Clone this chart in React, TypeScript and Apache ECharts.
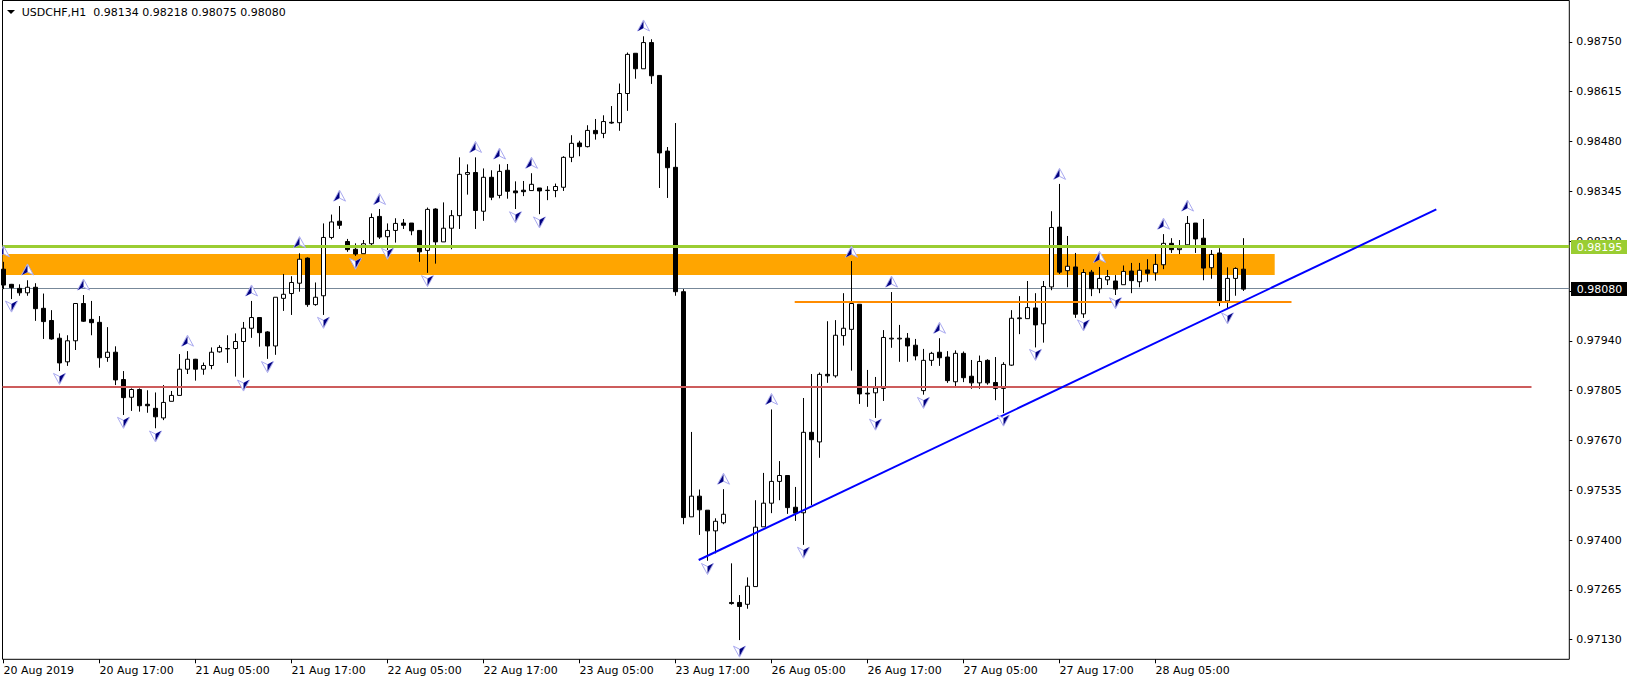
import React, { useEffect, useRef } from "react";
import * as echarts from "echarts";

const titleText = "USDCHF,H1  0.98134 0.98218 0.98075 0.98080";
const timeLabels = ["20 Aug 2019", "20 Aug 17:00", "21 Aug 05:00", "21 Aug 17:00", "22 Aug 05:00", "22 Aug 17:00", "23 Aug 05:00", "23 Aug 17:00", "26 Aug 05:00", "26 Aug 17:00", "27 Aug 05:00", "27 Aug 17:00", "28 Aug 05:00"];
const timeLabelBars = [0, 12, 24, 36, 48, 60, 72, 84, 96, 108, 120, 132, 144];
const priceTicks = [0.9875, 0.98615, 0.9848, 0.98345, 0.9821, 0.98075, 0.9794, 0.97805, 0.9767, 0.97535, 0.974, 0.97265, 0.9713];

// prices in 1e-5 units
const opens = [98134,98093,98082,98070,98085,98028,97995,97947,97883,97940,
98041,97998,97990,97895,97909,97835,97787,97808,97768,97757,
97731,97776,97792,97863,97890,97863,97873,97910,97918,97919,
97938,97974,98003,97964,97926,98055,98068,98096,98164,98038,
98062,98220,98264,98209,98188,98176,98203,98277,98222,98239,
98259,98259,98239,98185,98297,98208,98245,98279,98391,98396,
98291,98383,98334,98402,98346,98348,98347,98354,98347,98347,
98356,98437,98476,98466,98510,98502,98532,98531,98610,98719,
98677,98748,98659,98454,98410,98073,97463,97519,97481,97425,
97447,97231,97231,97226,97274,97436,97500,97559,97575,97489,
97474,97692,97666,97849,97845,97954,97971,98039,97798,97799,
97811,97945,97945,97947,97928,97805,97887,97909,97896,97829,
97906,97844,97826,97887,97827,97811,97874,98000,98000,98029,
97986,98086,98248,98130,98140,98013,98126,98081,98105,98102,
98092,98129,98100,98132,98124,98146,98204,98187,98200,98259,
98218,98138,98178,98048,98109,98134];
const closes = [98091,98084,98070,98085,98027,97992,97945,97880,97940,98041,
97993,97989,97894,97909,97834,97786,97808,97764,97764,97734,
97773,97792,97863,97890,97863,97873,97909,97922,97919,97938,
97974,98003,97962,97926,98058,98066,98098,98161,98038,98058,
98220,98262,98253,98187,98175,98203,98274,98221,98239,98258,
98253,98238,98181,98296,98208,98245,98279,98391,98396,98293,
98383,98329,98399,98345,98341,98344,98364,98346,98348,98358,
98437,98475,98466,98510,98501,98534,98530,98610,98716,98677,
98748,98658,98449,98409,98073,97461,97519,97482,97425,97451,
97470,97228,97220,97275,97435,97500,97559,97575,97488,97473,
97692,97672,97849,97845,97955,97974,98041,97796,97796,97812,
97949,97947,97947,97926,97899,97887,97906,97894,97832,97906,
97840,97826,97884,97826,97811,97876,98001,98002,98030,97983,
98087,98247,98126,98142,98012,98125,98081,98109,98114,98080,
98128,98103,98131,98123,98147,98204,98187,98191,98258,98216,
98137,98174,98048,98109,98136,98080];
const highs = [98154,98094,98093,98104,98096,98068,98023,97960,97955,98041,
98064,98048,98007,97977,97925,97858,97811,97811,97806,97800,
97820,97804,97904,97912,97891,97881,97922,97928,97955,97960,
97991,98048,98003,97966,98058,98121,98115,98177,98166,98098,
98258,98282,98305,98216,98204,98213,98285,98297,98258,98272,
98270,98259,98239,98301,98299,98315,98294,98437,98418,98437,
98407,98402,98418,98419,98372,98373,98394,98354,98359,98366,
98440,98497,98482,98524,98541,98551,98576,98637,98721,98719,
98765,98757,98659,98465,98530,98080,97693,97537,97481,97459,
97538,97337,97251,97299,97508,97582,97754,97614,97575,97544,
97785,97850,97854,97993,97996,98069,98156,98039,97861,97842,
97969,98072,97983,97961,97945,97918,97910,97947,97912,97914,
97911,97888,97900,97890,97896,97882,98023,98061,98102,98069,
98102,98291,98365,98224,98178,98134,98132,98140,98132,98118,
98144,98151,98151,98161,98175,98229,98218,98213,98278,98259,
98270,98186,98191,98139,98139,98218];
const lows = [98080,98053,98062,98062,97994,97945,97943,97858,97872,97915,
97991,97955,97867,97883,97820,97739,97750,97748,97745,97703,
97725,97776,97792,97850,97832,97848,97863,97908,97880,97843,
97840,97948,97924,97891,97902,98021,98010,98073,98032,98035,
98010,98215,98243,98181,98170,98176,98199,98216,98186,98206,
98243,98226,98154,98124,98149,98208,98188,98243,98336,98243,
98265,98321,98326,98325,98297,98332,98347,98283,98321,98329,
98346,98424,98440,98464,98485,98489,98528,98509,98563,98650,
98677,98636,98354,98327,98062,97443,97463,97414,97344,97364,
97443,97225,97129,97214,97274,97436,97473,97508,97471,97452,
97387,97495,97623,97826,97840,97927,97859,97769,97761,97731,
97777,97921,97883,97883,97887,97794,97872,97872,97826,97817,
97828,97810,97810,97821,97779,97744,97872,97958,98000,97922,
97935,98077,98121,98085,98002,98002,98061,98069,98091,98064,
98092,98069,98085,98100,98103,98134,98178,98175,98199,98178,
98104,98108,98034,98028,98062,98075];

const fractalUpBars = [0,3,10,23,31,37,42,47,59,62,66,80,90,96,106,111,117,132,137,145,148];
const fractalUpPrices = [98181,98132,98091,97939,98075,98206,98332,98323,98464,98446,98421,98793,97565,97781,98180,98099,97974,98391,98166,98256,98305];
const fractalDownBars = [1,7,15,19,30,33,40,44,48,53,64,67,88,92,100,109,115,125,129,135,139,153];
const fractalDownPrices = [98034,97838,97719,97682,97820,97870,97990,98150,98177,98103,98276,98262,97323,97099,97367,97714,97773,97725,97903,97983,98043,98002];

const resistanceLevel = 0.98195;
const bidLevel = 0.9808;
const supportLevel = 0.97813;
const neckLevel = 0.98043;
const neckBars = [98.9, 161];
const supportBars = [-0.125, 191];
const zoneBars = [-0.125, 158.9];
const zonePrices = [0.98175, 0.98118];
const trendBars = [86.9, 179.1];
const trendPrices = [0.97346, 0.98296];

const FONT = "'DejaVu Sans', sans-serif";
const AXIS_MIN_BAR = -0.125;
const AXIS_MAX_BAR = 195.725;
const AXIS_MIN_PRICE = 0.97077;
const AXIS_MAX_PRICE = 0.98862;

const pts = (v: number) => v / 100000;

function arrow(api: any, up: boolean) {
  const [x, y] = api.coord([api.value(0), api.value(1)]);
  const s = up ? 1 : -1;
  const p = (dx: number, dy: number) => [x + dx * s, y + dy * s];
  return {
    type: "group",
    children: [
      {
        type: "polygon",
        shape: { points: [p(0, -6), p(6, 5), p(0, 2), p(-6, 5)] },
        style: { fill: "#ffffff", stroke: "#a9a9f0", lineWidth: 1 },
      },
      {
        type: "polygon",
        shape: { points: [p(0, -5), p(-5.5, 5), p(0, 2)] },
        style: { fill: "#000080", stroke: "none" },
      },
    ],
  };
}

// Horizontal levels drawn pixel-crisp, as the terminal does.
function hLine(name: string, bars: number[], level: number, color: string, width: number, z: number) {
  return {
    name,
    type: "custom",
    z,
    silent: true,
    clip: true,
    data: [[bars[0], level, bars[1]]],
    encode: { x: [0, 2], y: 1 },
    renderItem: (_: any, api: any) => {
      const a = api.coord([api.value(0), api.value(1)]);
      const b = api.coord([api.value(2), api.value(1)]);
      return {
        type: "rect",
        shape: { x: a[0], y: Math.floor(a[1] - width / 2), width: b[0] - a[0], height: width },
        style: { fill: color },
      };
    },
  };
}

export default function App() {
  const ref = useRef<HTMLDivElement>(null);
  useEffect(() => {
    document.body.style.margin = "0";
    document.body.style.background = "#ffffff";
    const chart = echarts.init(ref.current!, null, { renderer: "svg" });
    const candleData = opens.map((o, i) => [i, pts(o), pts(closes[i]), pts(lows[i]), pts(highs[i])]);
    chart.setOption({
      animation: false,
      backgroundColor: "#ffffff",
      grid: {
        left: 2.5,
        top: 0.5,
        width: 1566.8,
        height: 658.8,
        show: true,
        borderColor: "#000000",
        borderWidth: 1,
        backgroundColor: "#ffffff",
      },
      xAxis: {
        type: "value",
        min: AXIS_MIN_BAR,
        max: AXIS_MAX_BAR,
        splitLine: { show: false },
        axisLine: { show: false, onZero: false },
        axisTick: { show: true, length: 4, customValues: timeLabelBars, lineStyle: { color: "#000000" } },
        axisLabel: {
          customValues: timeLabelBars,
          align: "left",
          margin: 6,
          color: "#000000",
          fontFamily: FONT,
          fontSize: 11,
          hideOverlap: false,
          formatter: (v: number) => timeLabels[timeLabelBars.indexOf(v)] ?? "",
        },
      },
      yAxis: {
        type: "value",
        position: "right",
        min: AXIS_MIN_PRICE,
        max: AXIS_MAX_PRICE,
        splitLine: { show: false },
        axisLine: { show: false, onZero: false },
        axisTick: { show: true, length: 3, customValues: priceTicks, lineStyle: { color: "#000000" } },
        axisLabel: {
          customValues: priceTicks,
          margin: 7,
          align: "left",
          color: "#000000",
          fontFamily: FONT,
          fontSize: 11,
          formatter: (v: number) => v.toFixed(5),
        },
      },
      series: [
        {
          name: "zone",
          type: "custom",
          z: 1,
          silent: true,
          clip: true,
          data: [[zoneBars[0], zonePrices[0], zoneBars[1], zonePrices[1]]],
          encode: { x: [0, 2], y: [1, 3] },
          renderItem: (_: any, api: any) => {
            const a = api.coord([api.value(0), api.value(1)]);
            const b = api.coord([api.value(2), api.value(3)]);
            return {
              type: "rect",
              shape: { x: a[0], y: a[1], width: b[0] - a[0], height: b[1] - a[1] },
              style: { fill: "#ffa500" },
            };
          },
        },
        hLine("bid", [AXIS_MIN_BAR, AXIS_MAX_BAR], bidLevel, "#778899", 1, 2),
        {
          name: "USDCHF,H1",
          type: "candlestick",
          z: 3,
          silent: true,
          barWidth: 4,
          data: candleData,
          itemStyle: {
            color: "#ffffff",
            color0: "#000000",
            borderColor: "#000000",
            borderColor0: "#000000",
            borderWidth: 1,
          },
        },
        hLine("resistance", [AXIS_MIN_BAR, AXIS_MAX_BAR], resistanceLevel, "#9acd32", 3, 4),
        hLine("support", supportBars, supportLevel, "#cd5c5c", 2, 4),
        hLine("neck", neckBars, neckLevel, "#ff8c00", 2, 4),
        {
          name: "trend",
          type: "line",
          z: 4,
          silent: true,
          symbol: "none",
          data: [[trendBars[0], trendPrices[0]], [trendBars[1], trendPrices[1]]],
          lineStyle: { color: "#0000ff", width: 2 },
        },
        {
          name: "fractalUp",
          type: "custom",
          z: 5,
          silent: true,
          clip: true,
          data: fractalUpBars.map((b, i) => [b, pts(fractalUpPrices[i])]),
          renderItem: (_: any, api: any) => arrow(api, true),
        },
        {
          name: "fractalDown",
          type: "custom",
          z: 5,
          silent: true,
          clip: true,
          data: fractalDownBars.map((b, i) => [b, pts(fractalDownPrices[i])]),
          renderItem: (_: any, api: any) => arrow(api, false),
        },
      ],
    });
    const badge = (level: number, fill: string) => {
      const y = chart.convertToPixel({ yAxisIndex: 0 }, level) as number;
      return [
        { type: "rect", z: 50, shape: { x: 1571, y: Math.round(y) - 7, width: 56, height: 14 }, style: { fill } },
        {
          type: "text",
          z: 51,
          x: 1576.7,
          y: Math.round(y),
          style: { text: level.toFixed(5), fill: "#ffffff", font: `11px ${FONT}`, verticalAlign: "middle" },
        },
      ];
    };
    chart.setOption({
      graphic: [
        { type: "polygon", shape: { points: [[7, 10], [15, 10], [11, 14]] }, style: { fill: "#000000" } },
        {
          type: "text",
          x: 21.7,
          y: 12,
          style: { text: titleText, fill: "#000000", font: `11px ${FONT}`, verticalAlign: "middle" },
        },
        ...badge(resistanceLevel, "#9acd32"),
        ...badge(bidLevel, "#000000"),
      ],
    });
    return () => chart.dispose();
  }, []);
  return <div ref={ref} style={{ width: 1633, height: 683 }} />;
}
